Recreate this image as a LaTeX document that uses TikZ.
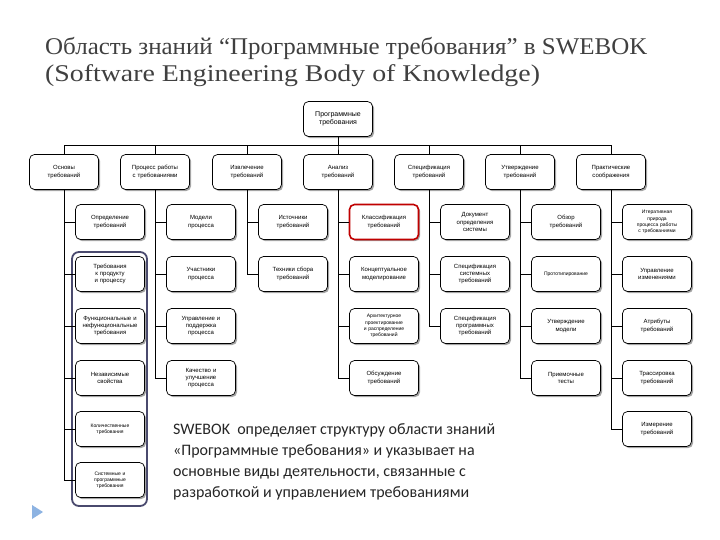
\documentclass[tikz,border=0pt]{standalone}
\usepackage{fontspec}
\setmainfont{Liberation Sans}
\newfontfamily\titlefont{Liberation Serif}
\newfontfamily\bodyfont{Carlito}
\usetikzlibrary{shadows}
\definecolor{bul}{HTML}{8DB3E2}
\definecolor{frameblue}{HTML}{4A4A6E}
\definecolor{redframe}{HTML}{C00000}
\begin{document}
\begin{tikzpicture}[x=1pt,y=-1pt,
  box/.style={draw=black, line width=0.7pt, rounded corners=5pt, fill=white,
    minimum width=69pt, minimum height=35pt, text width=64pt, align=center,
    font=\fontsize{6}{7.2}\selectfont, inner sep=1pt,
    drop shadow={shadow xshift=1.6pt, shadow yshift=-1.6pt, fill=black!50, opacity=0.7}},
  small/.style={font=\fontsize{5}{6.2}\selectfont},
  link/.style={draw=black, line width=0.7pt},
  titletext/.style={anchor=base west, inner sep=0, text=black!75, font=\titlefont\fontsize{24}{28}\selectfont}]
\useasboundingbox (0,0) rectangle (720,540);
\fill[white] (0,0) rectangle (720,540);

% title
\node[titletext] (t1) at (45,55) {\scalebox{1.04}[1]{Область знаний “Программные требования” в SWEBOK}};
\node[titletext] (t2) at (45,82) {\scalebox{1.16}[1]{(Software Engineering Body of Knowledge)}};

% root and level 1
\node[box, font=\fontsize{7}{8.4}\selectfont] (root) at (338,119) {Программные\\требования};
\node[box] (a) at (64,172) {Основы\\требований};
\node[box] (b) at (155,172) {Процесс работы\\с требованиями};
\node[box] (c) at (247,172) {Извлечение\\требований};
\node[box] (d) at (338,172) {Анализ\\требований};
\node[box] (e) at (429,172) {Спецификация\\требований};
\node[box] (f) at (520,172) {Утверждение\\требований};
\node[box] (g) at (611,172) {Практические\\соображения};

\foreach \n in {a,b,c,d,e,f,g}
  \draw[link] (root.south) -- ++(0,9) -| (\n.north);

% blue frame
\draw[frameblue, line width=1.8pt, rounded corners=7pt] (72,252) rectangle (147,506);

% column 1
\node[box] (a1) at (110,222) {Определение\\требований};
\node[box] (a2) at (110,274) {Требования\\к продукту\\и процессу};
\node[box] (a3) at (110,326) {Функциональные и\\нефункциональные\\требования};
\node[box] (a4) at (110,378) {Независимые\\свойства};
\node[box, small] (a5) at (110,429) {Количественные\\требования};
\node[box, small] (a6) at (110,480) {Системные и\\программные\\требования};
% column 2
\node[box] (b1) at (201,222) {Модели\\процесса};
\node[box] (b2) at (201,274) {Участники\\процесса};
\node[box] (b3) at (201,326) {Управление и\\поддержка\\процесса};
\node[box] (b4) at (201,378) {Качество и\\улучшение\\процесса};
% column 3
\node[box] (c1) at (293,222) {Источники\\требований};
\node[box] (c2) at (293,274) {Техники сбора\\требований};
% column 4
\node[box, draw=redframe, line width=1.6pt] (d1) at (384,222) {Классификация\\требований};
\node[box] (d2) at (384,274) {Концептуальное\\моделирование};
\node[box, small] (d3) at (384,326) {Архитектурное\\проектирование\\и распределение\\требований};
\node[box] (d4) at (384,378) {Обсуждение\\требований};
% column 5
\node[box] (e1) at (475,222) {Документ\\определения\\системы};
\node[box] (e2) at (475,274) {Спецификация\\системных\\требований};
\node[box] (e3) at (475,326) {Спецификация\\программных\\требований};
% column 6
\node[box] (f1) at (566,222) {Обзор\\требований};
\node[box, small] (f2) at (566,274) {Прототипирование};
\node[box] (f3) at (566,326) {Утверждение\\модели};
\node[box] (f4) at (566,378) {Приемочные\\тесты};
% column 7
\node[box, small] (g1) at (657,222) {Итеративная\\природа\\процесса работы\\с требованиями};
\node[box] (g2) at (657,274) {Управление\\изменениями};
\node[box] (g3) at (657,326) {Атрибуты\\требований};
\node[box] (g4) at (657,378) {Трассировка\\требований};
\node[box] (g5) at (657,429) {Измерение\\требований};

% column connectors
\foreach \i in {1,...,6} \draw[link] (a.south) |- (a\i.west);
\foreach \i in {1,...,4} \draw[link] (b.south) |- (b\i.west);
\foreach \i in {1,2} \draw[link] (c.south) |- (c\i.west);
\foreach \i in {1,...,4} \draw[link] (d.south) |- (d\i.west);
\foreach \i in {1,...,3} \draw[link] (e.south) |- (e\i.west);
\foreach \i in {1,...,4} \draw[link] (f.south) |- (f\i.west);
\foreach \i in {1,...,5} \draw[link] (g.south) |- (g\i.west);

% description
\node[anchor=north west, inner sep=0, align=left, text=black!85, font=\bodyfont\fontsize{16}{21}\selectfont] (desc) at (173,423)
  {SWEBOK\ \ определяет структуру области знаний\\«Программные требования» и указывает на\\основные виды деятельности, связанные с\\разработкой и управлением требованиями};

% bullet
\fill[bul] (32,505) -- (43,512) -- (32,519) -- cycle;
\end{tikzpicture}
\end{document}
